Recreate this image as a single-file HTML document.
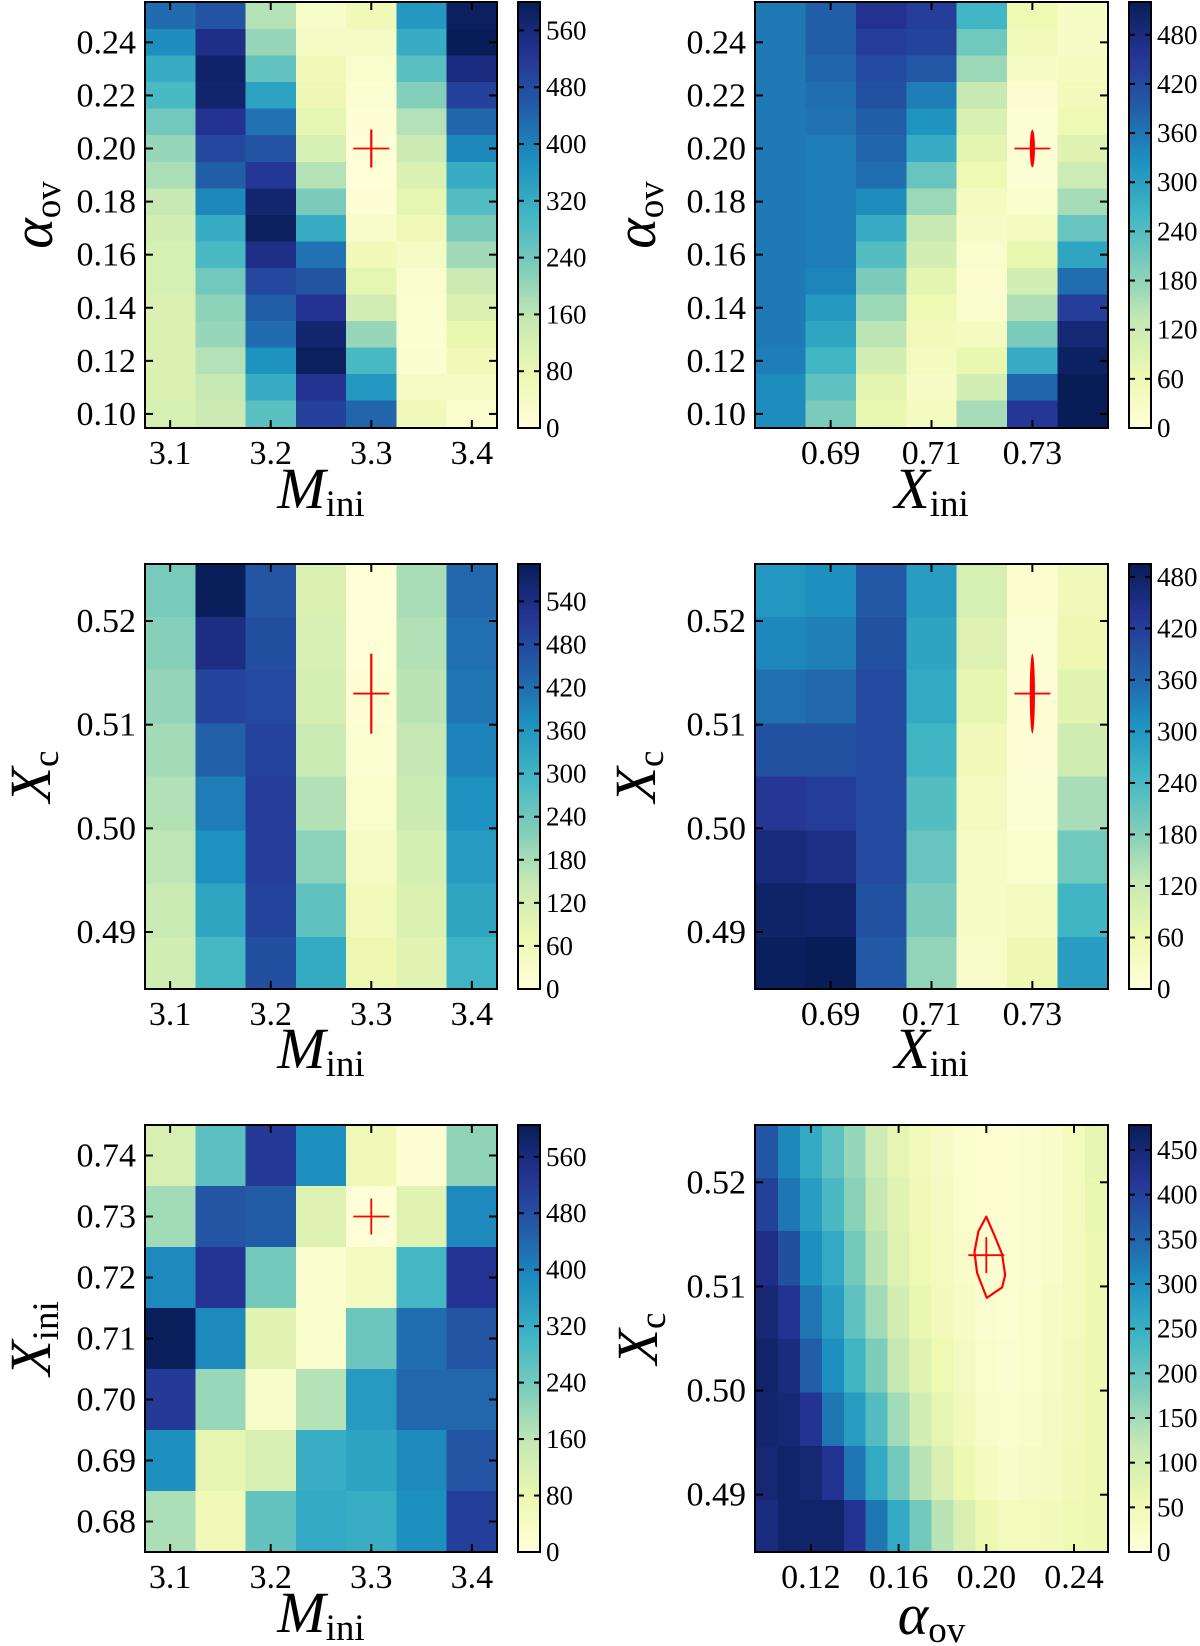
<!DOCTYPE html>
<html><head><meta charset="utf-8"><style>
html,body{margin:0;padding:0;background:#fff;}
svg{display:block;font-family:"Liberation Serif",serif;}
</style></head><body>
<svg id="fig" width="1200" height="1646" viewBox="0 0 1200 1646"></svg>
<script>
// ---------- DATA ----------
const mCats=[3.1,3.15,3.2,3.25,3.3,3.35,3.4];
const xiniCats=[0.68,0.69,0.70,0.71,0.72,0.73,0.74];
const aovCats16=[0.25,0.24,0.23,0.22,0.21,0.20,0.19,0.18,0.17,0.16,0.15,0.14,0.13,0.12,0.11,0.10];
const xcRows=[0.5230,0.5178,0.5127,0.5075,0.5024,0.4972,0.4921,0.4869];
const aovCols16=[0.10,0.11,0.12,0.13,0.14,0.15,0.16,0.17,0.18,0.19,0.20,0.21,0.22,0.23,0.24,0.25];

const p1Cols=[
 [430,380,320,290,240,200,180,150,130,120,120,110,110,110,110,120],
 [470,540,580,575,530,490,450,390,320,290,240,210,200,170,150,140],
 [170,200,260,340,420,470,520,570,590,540,490,450,430,370,320,270],
 [30,40,60,70,90,120,170,230,320,420,470,530,570,590,530,500],
 [60,40,25,15,10,5,5,10,30,60,90,130,200,290,360,440],
 [360,320,270,220,170,140,110,90,60,40,20,15,15,20,40,60],
 [590,600,550,500,440,390,320,280,230,190,140,110,80,60,40,20]];
const p1Max=600;
const p2Cols=[
 [355,355,355,355,355,355,355,355,355,355,355,355,355,350,330,330],
 [390,390,380,370,365,350,350,350,350,350,340,310,290,260,230,200],
 [460,440,420,410,390,380,370,330,280,240,200,170,140,110,80,70],
 [440,430,400,350,320,280,220,170,130,110,80,60,50,40,30,40],
 [260,210,170,130,100,80,60,40,30,20,15,20,40,70,110,160],
 [60,50,30,15,10,5,10,20,40,70,110,150,200,280,380,450],
 [30,30,40,50,60,90,120,160,220,290,370,440,490,510,520,520]];
const p2Max=520;
const p3Cols=[
 [230,215,200,185,170,155,140,130],
 [590,540,490,440,400,370,330,290],
 [460,470,480,490,500,500,490,470],
 [110,115,120,140,170,210,260,320],
 [5,5,10,15,25,40,55,70],
 [180,170,160,150,140,120,110,100],
 [430,420,410,390,370,350,330,300]];
const p3Max=592;
const p4Cols=[
 [300,320,350,390,430,460,480,490],
 [310,330,360,390,420,450,475,495],
 [380,390,400,400,400,400,390,380],
 [290,280,270,250,230,210,190,170],
 [100,90,70,50,40,30,30,25],
 [15,10,5,5,10,20,40,60],
 [50,60,80,110,150,200,250,290]];
const p4Max=495;
const p5Rows=[
 [120,270,520,380,60,10,210],
 [190,470,460,110,5,100,390],
 [390,530,240,20,50,300,530],
 [600,390,100,20,250,430,470],
 [520,200,30,170,360,440,440],
 [380,90,120,320,340,390,470],
 [180,60,260,330,320,380,510]];
const p5YCats=[0.74,0.73,0.72,0.71,0.70,0.69,0.68];
const p5Max=605;
const p6Cols=[
 [370,400,430,450,460,455,450,440],
 [310,330,380,420,440,450,460,460],
 [260,280,300,330,360,420,450,460],
 [210,230,260,280,300,330,420,460],
 [160,170,190,210,240,280,330,420],
 [110,120,130,150,180,220,260,330],
 [70,80,85,100,120,150,190,260],
 [45,50,55,65,80,100,130,190],
 [30,35,40,45,55,70,90,130],
 [20,20,25,30,35,45,60,90],
 [10,10,10,15,20,25,35,60],
 [10,10,10,10,15,20,25,40],
 [15,15,15,20,20,25,30,40],
 [25,25,25,30,30,35,35,45],
 [40,40,40,40,45,45,50,55],
 [70,65,60,60,60,60,60,60]];
const p6Max=478;
const p6ContourX=[0.2000,0.1964,0.1946,0.1958,0.2002,0.2072,0.2086,0.2072,0.2037];
const p6ContourY=[0.5167,0.5153,0.5133,0.5113,0.5089,0.5099,0.5111,0.5131,0.5149];

const mTicks=[3.1,3.2,3.3,3.4];
const mTickLabels=["3.1","3.2","3.3","3.4"];
const xiniTicks=[0.69,0.71,0.73];
const xiniTickLabels=["0.69","0.71","0.73"];
const aovTicks=[0.10,0.12,0.14,0.16,0.18,0.20,0.22,0.24];
const aovTickLabels=["0.10","0.12","0.14","0.16","0.18","0.20","0.22","0.24"];
const xcTicks=[0.49,0.50,0.51,0.52];
const xcTickLabels=["0.49","0.50","0.51","0.52"];
const xini7Ticks=[0.68,0.69,0.70,0.71,0.72,0.73,0.74];
const xini7TickLabels=["0.68","0.69","0.70","0.71","0.72","0.73","0.74"];
const aovXTicks=[0.12,0.16,0.20,0.24];
const aovXTickLabels=["0.12","0.16","0.20","0.24"];
const cb1Ticks=[0,80,160,240,320,400,480,560];
const cb2Ticks=[0,60,120,180,240,300,360,420,480];
const cb3Ticks=[0,60,120,180,240,300,360,420,480,540];
const cb4Ticks=[0,60,120,180,240,300,360,420,480];
const cb5Ticks=[0,80,160,240,320,400,480,560];
const cb6Ticks=[0,50,100,150,200,250,300,350,400,450];

// ---------- RENDER ----------
const NS="http://www.w3.org/2000/svg";
const svg=document.getElementById('fig');
const stops=["#ffffd9","#edf8b1","#c7e9b4","#7fcdbb","#41b6c4","#1d91c0","#225ea8","#253494","#081d58"];
function hex(h){return [parseInt(h.substr(1,2),16),parseInt(h.substr(3,2),16),parseInt(h.substr(5,2),16)];}
const stopRGB=stops.map(hex);
function cmap(t){
  t=Math.max(0,Math.min(1,t));
  const p=t*(stopRGB.length-1);const i=Math.min(Math.floor(p),stopRGB.length-2);const f=p-i;
  const a=stopRGB[i],b=stopRGB[i+1];
  return "rgb("+a.map((v,k)=>Math.round(v+(b[k]-v)*f)).join(",")+")";
}
function el(tag,attrs,parent){const e=document.createElementNS(NS,tag);for(const k in attrs)e.setAttribute(k,attrs[k]);(parent||svg).appendChild(e);return e;}

function panel(o){
  const g=el('g',{});
  
  
  const sx=v=>o.x0+(v-o.xr[0])/(o.xr[1]-o.xr[0])*(o.x1-o.x0);
  const sy=v=>o.y1-(v-o.yr[0])/(o.yr[1]-o.yr[0])*(o.y1-o.y0);
  const dx=Math.abs(o.xCats[1]-o.xCats[0]), dy=Math.abs(o.yCats[1]-o.yCats[0]);
  const cells=el('g',{'shape-rendering':'crispEdges'},g);
  
  
  for(let i=0;i<o.xCats.length;i++){
    for(let j=0;j<o.yCats.length;j++){
      const v=o.val(i,j);
      const xa=sx(o.xCats[i]-dx/2), xb=sx(o.xCats[i]+dx/2);
      const ya=sy(o.yCats[j]+dy/2), yb=sy(o.yCats[j]-dy/2);
      const L=Math.max(o.x0,Math.min(xa,xb)),R=Math.min(o.x1,Math.max(xa,xb));
      const T=Math.max(o.y0,Math.min(ya,yb)),B=Math.min(o.y1,Math.max(ya,yb));
      const r=el('rect',{x:L,y:T,width:R-L+0.6,height:B-T+0.6,fill:cmap(v/o.vmax)},cells);
      
      
    }
  }
  if(o.marker){
    const mk=el('g',{},g);
    
    
    const cx=sx(o.marker[0]),cy=sy(o.marker[1]);
    el('line',{x1:cx-18,x2:cx+18,y1:cy,y2:cy,stroke:'#f00','stroke-width':1.8},mk);
    if(o.lens) el('ellipse',{cx:cx,cy:cy,rx:2.6,ry:o.mv,fill:'#f00'},mk);
    else el('line',{x1:cx,x2:cx,y1:cy-o.mv,y2:cy+o.mv,stroke:'#f00','stroke-width':o.mw||2.2},mk);
  }
  if(o.contourX){
    const pts=o.contourX.map((v,k)=>sx(v)+","+sy(o.contourY[k])).join(" ");
    const c=el('polygon',{points:pts,fill:'none',stroke:'#f00','stroke-width':2.2,'stroke-linejoin':'round'},g);
    
    
  }
  el('rect',{x:o.x0,y:o.y0,width:o.x1-o.x0,height:o.y1-o.y0,fill:'none',stroke:'#000','stroke-width':2},g);
  o.xTicks.forEach((t,k)=>{
    const x=sx(t);
    el('line',{x1:x,x2:x,y1:o.y1,y2:o.y1-8,stroke:'#000','stroke-width':2},g);
    el('line',{x1:x,x2:x,y1:o.y0,y2:o.y0+8,stroke:'#000','stroke-width':2},g);
    const tx=el('text',{x:x,y:o.y1+36,'text-anchor':'middle','font-size':34,fill:'#000'},g);
    tx.textContent=o.xTickLabels[k];
    
    
  });
  o.yTicks.forEach((t,k)=>{
    const y=sy(t);
    el('line',{x1:o.x0,x2:o.x0+8,y1:y,y2:y,stroke:'#000','stroke-width':2},g);
    el('line',{x1:o.x1,x2:o.x1-8,y1:y,y2:y,stroke:'#000','stroke-width':2},g);
    const tx=el('text',{x:o.x0-9,y:y+11,'text-anchor':'end','font-size':34,fill:'#000'},g);
    tx.textContent=o.yTickLabels[k];
    
    
  });
  const xl=el('text',{x:(o.x0+o.x1)/2,y:o.xlY,'text-anchor':'middle','font-size':58,fill:'#000'},g);
  xl.innerHTML='<tspan font-style="italic">'+o.xLabel[0]+'</tspan><tspan font-size="37" dy="8">'+o.xLabel[1]+'</tspan>';
  
  
  const cy=(o.y0+o.y1)/2;
  const yl=el('text',{x:0,y:0,'text-anchor':'middle','font-size':58,fill:'#000',transform:'translate('+o.ylX+','+cy+') rotate(-90)'},g);
  yl.innerHTML='<tspan font-style="italic">'+o.yLabel[0]+'</tspan><tspan font-size="37" dy="8">'+o.yLabel[1]+'</tspan>';
  
  
  const cb=el('g',{},g);
  
  
  const gid='grad'+o.name;
  const defs=el('defs',{},cb);
  const lg=el('linearGradient',{id:gid,x1:0,y1:1,x2:0,y2:0},defs);
  stops.forEach((s,k)=>el('stop',{offset:(k/(stops.length-1)),'stop-color':s},lg));
  const cw=22;
  el('rect',{x:o.cbX,y:o.y0,width:cw,height:o.y1-o.y0,fill:'url(#'+gid+')',stroke:'#000','stroke-width':2},cb);
  const cs=v=>o.y1-v/o.vmax*(o.y1-o.y0);
  o.cbTicks.forEach(t=>{
    const y=cs(t);
    el('line',{x1:o.cbX,x2:o.cbX+6,y1:y,y2:y,stroke:'#000','stroke-width':2},cb);
    el('line',{x1:o.cbX+cw,x2:o.cbX+cw-6,y1:y,y2:y,stroke:'#000','stroke-width':2},cb);
    const tx=el('text',{x:o.cbX+cw+6,y:y+9,'font-size':27,fill:'#000'},cb);
    tx.textContent=String(t);
    
    
  });
}

const xcR=[0.4845,0.5255];
panel({name:'panel-aov-vs-mini',x0:145,x1:497,y0:2,y1:428,xr:[3.075,3.425],yr:[0.0947,0.2552],
  xCats:mCats,yCats:aovCats16,val:(i,j)=>p1Cols[i][j],vmax:p1Max,
  xTicks:mTicks,xTickLabels:mTickLabels,yTicks:aovTicks,yTickLabels:aovTickLabels,
  xLabel:['M','ini'],yLabel:['α','ov'],xlY:508,ylX:52,cbX:518,cbTicks:cb1Ticks,marker:[3.3,0.20],mv:19});
panel({name:'panel-aov-vs-xini',x0:755,x1:1108,y0:2,y1:428,xr:[0.675,0.745],yr:[0.0947,0.2552],
  xCats:xiniCats,yCats:aovCats16,val:(i,j)=>p2Cols[i][j],vmax:p2Max,
  xTicks:xiniTicks,xTickLabels:xiniTickLabels,yTicks:aovTicks,yTickLabels:aovTickLabels,
  xLabel:['X','ini'],yLabel:['α','ov'],xlY:508,ylX:655,cbX:1129,cbTicks:cb2Ticks,marker:[0.73,0.20],mv:19,lens:true});
panel({name:'panel-xc-vs-mini',x0:145,x1:497,y0:564,y1:989,xr:[3.075,3.425],yr:xcR,
  xCats:mCats,yCats:xcRows,val:(i,j)=>p3Cols[i][j],vmax:p3Max,
  xTicks:mTicks,xTickLabels:mTickLabels,yTicks:xcTicks,yTickLabels:xcTickLabels,
  xLabel:['M','ini'],yLabel:['X','c'],xlY:1068,ylX:50,cbX:518,cbTicks:cb3Ticks,marker:[3.3,0.513],mv:40});
panel({name:'panel-xc-vs-xini',x0:755,x1:1108,y0:564,y1:989,xr:[0.675,0.745],yr:xcR,
  xCats:xiniCats,yCats:xcRows,val:(i,j)=>p4Cols[i][j],vmax:p4Max,
  xTicks:xiniTicks,xTickLabels:xiniTickLabels,yTicks:xcTicks,yTickLabels:xcTickLabels,
  xLabel:['X','ini'],yLabel:['X','c'],xlY:1068,ylX:655,cbX:1129,cbTicks:cb4Ticks,marker:[0.73,0.513],mv:40,lens:true});
panel({name:'panel-xini-vs-mini',x0:145,x1:497,y0:1125,y1:1552,xr:[3.075,3.425],yr:[0.675,0.745],
  xCats:mCats,yCats:p5YCats,val:(i,j)=>p5Rows[j][i],vmax:p5Max,
  xTicks:mTicks,xTickLabels:mTickLabels,yTicks:xini7Ticks,yTickLabels:xini7TickLabels,
  xLabel:['M','ini'],yLabel:['X','ini'],xlY:1632,ylX:50,cbX:518,cbTicks:cb5Ticks,marker:[3.3,0.73],mv:18,mw:1.8});
panel({name:'panel-xc-vs-aov',x0:755,x1:1108,y0:1125,y1:1552,xr:[0.0945,0.2555],yr:xcR,
  xCats:aovCols16,yCats:xcRows,val:(i,j)=>p6Cols[i][j],vmax:p6Max,
  xTicks:aovXTicks,xTickLabels:aovXTickLabels,yTicks:xcTicks,yTickLabels:xcTickLabels,
  xLabel:['α','ov'],yLabel:['X','c'],xlY:1634,ylX:657,cbX:1129,cbTicks:cb6Ticks,marker:[0.20,0.513],mv:18,mw:1.8,
  contourX:p6ContourX,contourY:p6ContourY});
</script>
</body></html>
